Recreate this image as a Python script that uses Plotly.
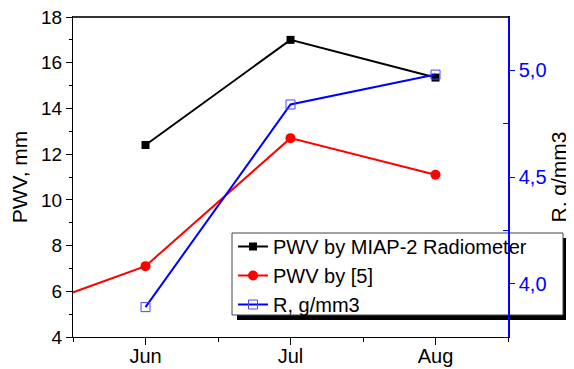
import plotly.graph_objects as go

# Data
months = ["May", "Jun", "Jul", "Aug"]
month_pos = [-1, 0, 1, 2]
tick_labels = ["Jun", "Jul", "Aug"]

pwv_radiometer = [12.4, 17.0, 15.35]  # Jun, Jul, Aug
pwv_ref5 = [4.8, 7.1, 12.7, 11.1]     # May, Jun, Jul, Aug
r_values = [3.89, 4.84, 4.98]         # Jun, Jul, Aug

y2_ticks = [4.0, 4.5, 5.0]
y2_labels = ["4,0", "4,5", "5,0"]

FONT = "Liberation Sans, Arial, sans-serif"

fig = go.Figure()
fig.add_trace(go.Scatter(
    x=month_pos[1:], y=pwv_radiometer, mode="lines+markers",
    name="PWV by MIAP-2 Radiometer", legendgroup="a",
    line=dict(color="black", width=2),
    marker=dict(symbol="square", size=8, color="black"),
))
fig.add_trace(go.Scatter(
    x=month_pos, y=pwv_ref5, mode="lines+markers",
    name="PWV by [5]", legendgroup="b",
    line=dict(color="#ff0000", width=2),
    marker=dict(symbol="circle", size=10, color="#ff0000"),
))
fig.add_trace(go.Scatter(
    x=month_pos[1:], y=r_values, mode="lines+markers", yaxis="y2",
    name="R, g/mm3", legendgroup="c",
    line=dict(color="#0000ff", width=2),
    marker=dict(symbol="square-open", size=9, color="#4444ff", line=dict(width=1)),
))

# page has an 8px body margin: figure origin sits at screen (8, 8)
OFF = 8
W, H = 574 - OFF, 369 - OFF
PL, PR, PT, PB = 73, 508, 17, 337  # plot area in screen pixels
L, R, T, B = PL - OFF, W - (PR - OFF), PT - OFF, H - (PB - OFF)
pw, ph = PR - PL, PB - PT

def px(x):
    return (x - PL) / pw

def py(y):
    return (PB - y) / ph

fig.update_layout(
    width=W, height=H,
    margin=dict(l=L, r=R, t=T, b=B),
    paper_bgcolor="white", plot_bgcolor="white",
    font=dict(family=FONT, size=20, color="black"),
    showlegend=True,
    legend=dict(
        x=px(233), y=py(227), xanchor="left", yanchor="top",
        bgcolor="rgba(0,0,0,0)", borderwidth=0,
        font=dict(size=20, family=FONT),
        traceorder="grouped", tracegroupgap=0,
    ),
    xaxis=dict(
        range=[-0.5, 2.5], tickmode="array", tickvals=month_pos[1:], ticktext=tick_labels,
        showgrid=False, zeroline=False, showline=True, linecolor="black", linewidth=1,
        mirror=True, ticks="outside", ticklen=7, tickcolor="black",
        tickfont=dict(size=20), automargin=False, ticklabelstandoff=-6,
        ticklabeloverflow="allow",
        minor=dict(tickmode="array", tickvals=[-0.5, 0.5, 1.5, 2.5], ticks="outside",
                   ticklen=4, tickcolor="black"),
    ),
    yaxis=dict(
        range=[4, 18], dtick=2, tick0=4,
        showgrid=False, zeroline=False, showline=True, linecolor="black", linewidth=1,
        ticks="outside", ticklen=6, tickcolor="black",
        tickfont=dict(size=19), automargin=False, ticklabeloverflow="allow",
        minor=dict(dtick=1, ticks="outside", ticklen=3, tickcolor="black"),
        title=dict(text="PWV, mm", font=dict(size=21), standoff=8),
    ),
    yaxis2=dict(
        overlaying="y", side="right", range=[3.75, 5.25],
        tickmode="array", tickvals=y2_ticks, ticktext=y2_labels,
        showgrid=False, zeroline=False, showline=True, linecolor="#0000ff", linewidth=1.5,
        ticks="outside", ticklen=5, tickcolor="#0000ff",
        tickfont=dict(size=20, color="#0000ff"), automargin=False, ticklabeloverflow="allow",
        minor=dict(tickmode="array", tickvals=[3.75, 4.25, 4.75, 5.25], ticks="inside",
                   ticklen=5, tickcolor="#0000ff"),
        title=dict(text="R, g/mm3", font=dict(size=21, color="black"), standoff=6),
    ),
    shapes=[
        dict(type="rect", xref="paper", yref="paper", layer="below",
             x0=px(237), x1=px(568), y0=py(320), y1=py(238),
             fillcolor="black", line=dict(width=0)),
        dict(type="rect", xref="paper", yref="paper", layer="below",
             x0=px(232), x1=px(563), y0=py(315), y1=py(233),
             fillcolor="white", line=dict(color="#444444", width=1)),
        dict(type="rect", xref="paper", yref="paper", layer="above",
             x0=0, x1=1, y0=py(18), y1=py(16),
             fillcolor="#333333", line=dict(width=0)),
    ],
)

fig.write_html("out.html")
